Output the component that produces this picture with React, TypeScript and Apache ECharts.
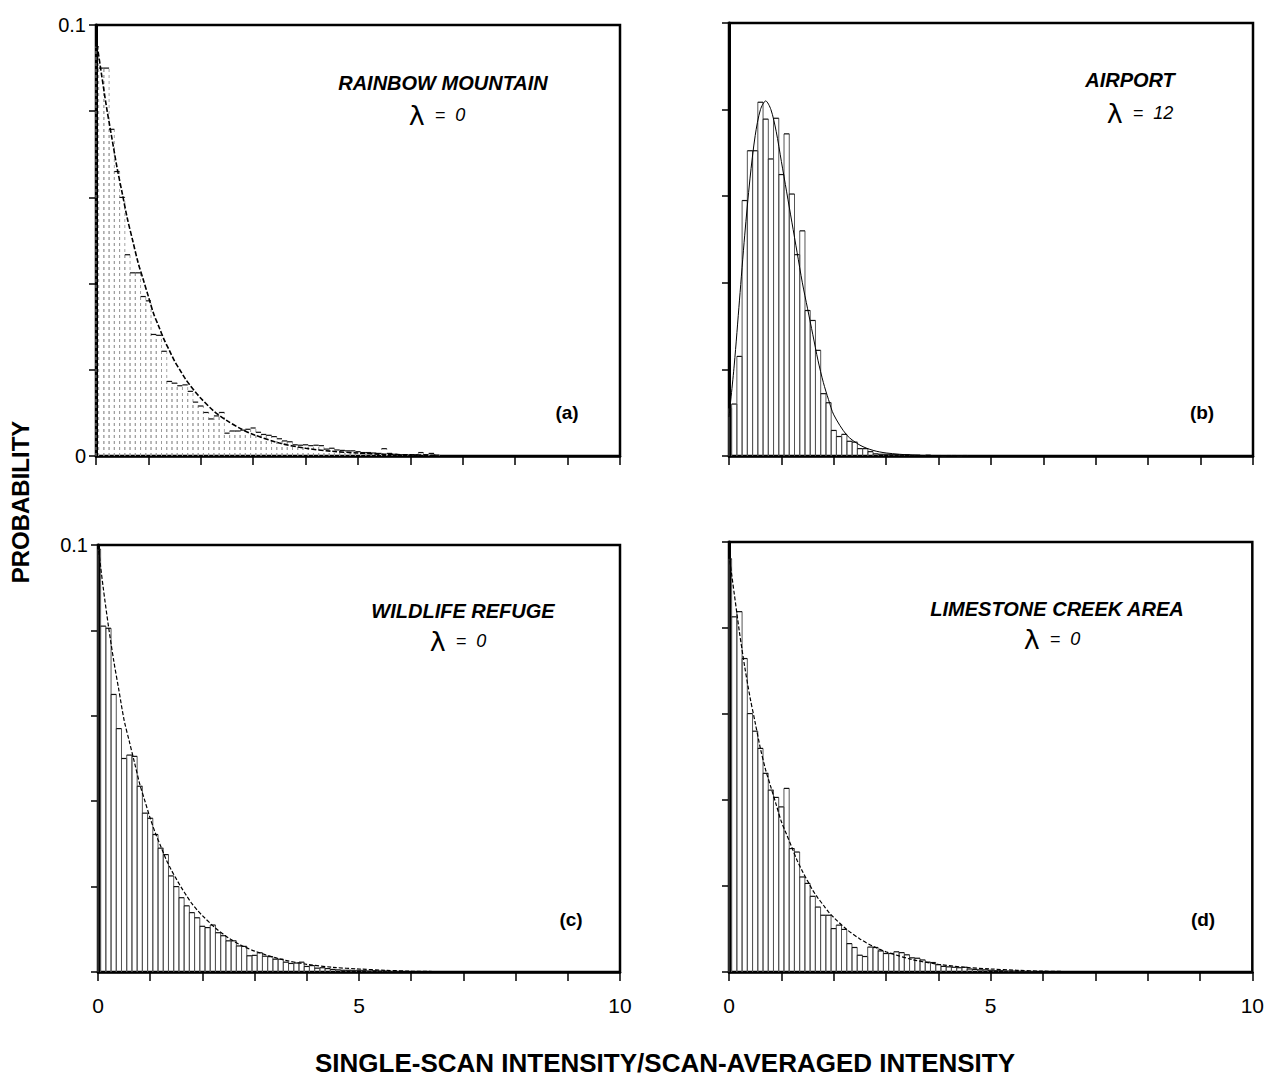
import React, { useEffect, useRef } from "react";
import * as echarts from "echarts";

// Histogram bins are 0.1 wide; bin k is centred on 0.1·k (the first one is clipped at 0).
const BIN_WIDTH = 0.1;

// Probability per bin
const rainbowBins = [
  0.095, 0.090, 0.090, 0.0758, 0.066, 0.060, 0.0467, 0.0425, 0.0425, 0.037,
  0.036, 0.0282, 0.028, 0.0243, 0.0173, 0.0169, 0.0163, 0.0165, 0.015, 0.0125,
  0.0116, 0.0101, 0.0086, 0.0093, 0.0101, 0.0053, 0.0058, 0.0058, 0.006, 0.0062,
  0.0065, 0.0055, 0.005, 0.0048, 0.0045, 0.004, 0.0035, 0.0033, 0.0026, 0.0025,
  0.0026, 0.0024, 0.0025, 0.0024, 0.0016, 0.0018, 0.0014, 0.0013, 0.0012, 0.0012,
  0.001, 0.0008, 0.0008, 0.0007, 0.0006, 0.0017, 0.0006, 0.0004, 0.0003, 0.0003,
  0.0002, 0.0003, 0.0008, 0.0003, 0.0006, 0.0002,
];

const airportBins = [
  0.011, 0.012, 0.023, 0.059, 0.0705, 0.0705, 0.0817, 0.0778, 0.0686, 0.078,
  0.065, 0.0744, 0.0605, 0.0465, 0.052, 0.0336, 0.0313, 0.0244, 0.0144, 0.0123,
  0.0059, 0.0045, 0.005, 0.0034, 0.0032, 0.0017, 0.0017, 0.001, 0.0005, 0.0004,
  0.0004, 0.0003, 0.0003, 0.0002, 0.0003, 0.0002, 0.0002, 0.0001, 0.0002, 0.0001,
  0.0001, 0, 0.0001, 0.0001, 0, 0.0001,
];

const wildlifeBins = [
  0.099, 0.081, 0.0805, 0.065, 0.057, 0.050, 0.0508, 0.0505, 0.0435, 0.0372,
  0.036, 0.0322, 0.029, 0.0275, 0.0225, 0.020, 0.0174, 0.0155, 0.0139, 0.0127,
  0.0107, 0.0104, 0.011, 0.0092, 0.0085, 0.0073, 0.0073, 0.0061, 0.006, 0.0038,
  0.0039, 0.0045, 0.0037, 0.0036, 0.003, 0.003, 0.0023, 0.002, 0.0021, 0.0023,
  0.0013, 0.0015, 0.0009, 0.001, 0.0008, 0.0006, 0.0005, 0.0004, 0.0004, 0.0003,
  0.0004, 0.0003, 0.0002, 0.0003, 0.0002, 0.0002, 0.0001, 0.0001,
];

const limestoneBins = [
  0.0961, 0.0826, 0.0838, 0.0729, 0.0601, 0.056, 0.052, 0.0462, 0.0423, 0.0406,
  0.0384, 0.0427, 0.0287, 0.0279, 0.0221, 0.0206, 0.0176, 0.0151, 0.0132, 0.0132,
  0.0101, 0.0109, 0.0099, 0.0066, 0.0057, 0.0039, 0.0036, 0.0058, 0.0057, 0.0049,
  0.0043, 0.0043, 0.0047, 0.0045, 0.004, 0.0033, 0.0032, 0.0028, 0.0023, 0.0022,
  0.0017, 0.0013, 0.0012, 0.0011, 0.001, 0.0011, 0.0007, 0.0006, 0.0005, 0.0005,
  0.0004, 0.0003, 0.0003, 0.0002, 0.0002, 0.0002, 0.0001, 0.0001, 0.0001,
];

// Fitted probability curves, sampled at CURVE_X
const CURVE_X = [
  0, 0.1, 0.2, 0.3, 0.4, 0.5, 0.6, 0.7, 0.8, 0.9, 1.0, 1.1, 1.2, 1.3, 1.4, 1.5,
  1.6, 1.7, 1.8, 1.9, 2.0, 2.25, 2.5, 2.75, 3.0, 3.5, 4.0, 4.5, 5.0, 5.5, 6.0, 6.5,
];
const rainbowCurve = [
  0.097, 0.089, 0.081, 0.074, 0.067, 0.061, 0.055, 0.050, 0.045, 0.041, 0.037, 0.033,
  0.030, 0.027, 0.0245, 0.022, 0.020, 0.018, 0.0163, 0.0148, 0.0134, 0.0104, 0.0082,
  0.0064, 0.005, 0.003, 0.0018, 0.0011, 0.0007, 0.0004, 0.00025, 0.00015,
];
const airportCurve = [
  0.009, 0.021, 0.036, 0.051, 0.064, 0.074, 0.080, 0.082, 0.080, 0.075, 0.068, 0.061,
  0.054, 0.047, 0.040, 0.034, 0.028, 0.022, 0.017, 0.013, 0.0095, 0.0048, 0.0025,
  0.0013, 0.0007, 0.0002, 0.0001, 0.00005, 0, 0, 0, 0,
];
const wildlifeCurve = [
  0.100, 0.090, 0.081, 0.073, 0.066, 0.059, 0.054, 0.049, 0.044, 0.040, 0.036, 0.0325,
  0.0295, 0.0265, 0.024, 0.0218, 0.0197, 0.0178, 0.016, 0.0145, 0.0132, 0.0103, 0.008,
  0.0062, 0.0049, 0.003, 0.0018, 0.0011, 0.0007, 0.0004, 0.0002, 0.0001,
];
const limestoneCurve = [
  0.097, 0.088, 0.079, 0.071, 0.064, 0.058, 0.052, 0.047, 0.043, 0.039, 0.035, 0.032,
  0.029, 0.026, 0.0235, 0.0212, 0.019, 0.0172, 0.0156, 0.014, 0.0127, 0.0099, 0.0077,
  0.006, 0.0047, 0.0029, 0.0018, 0.0011, 0.0007, 0.0004, 0.0002, 0.0001,
];

const X_LABELS = [0, 5, 10];
const SITE_NAMES = ["RAINBOW MOUNTAIN", "AIRPORT", "WILDLIFE REFUGE", "LIMESTONE CREEK AREA"];
const LAMBDAS = ["0", "12", "0", "0"];
const PANEL_TAGS = ["(a)", "(b)", "(c)", "(d)"];
const Y_TITLE = "PROBABILITY";
const X_TITLE = "SINGLE-SCAN INTENSITY/SCAN-AVERAGED INTENSITY";

const SANS = "'Liberation Sans', Arial, Helvetica, sans-serif";

type SideStyle = { stroke: string; lineWidth: number; lineDash?: number[] };

const PANELS = [
  {
    bins: rainbowBins, curve: rainbowCurve,
    grid: { left: 96, top: 25, width: 524, height: 431 },
    yLabels: ["0", "0.1"], xLabels: false,
    side: { stroke: "#9a9a9a", lineWidth: 0.9, lineDash: [3, 3] } as SideStyle,
    curveStyle: { width: 1.6, type: [5, 2] as any },
    name: { x: 443, y: 83 }, lambda: { x: 437, y: 115 }, tag: { x: 567, y: 412 },
  },
  {
    bins: airportBins, curve: airportCurve,
    grid: { left: 729, top: 23, width: 524, height: 433 },
    yLabels: [], xLabels: false,
    side: { stroke: "#555", lineWidth: 1 } as SideStyle,
    curveStyle: { width: 1, type: "solid" as any },
    name: { x: 1130, y: 80 }, lambda: { x: 1140, y: 113 }, tag: { x: 1202, y: 412 },
  },
  {
    bins: wildlifeBins, curve: wildlifeCurve,
    grid: { left: 98, top: 545, width: 522, height: 427 },
    yLabels: ["0.1"], xLabels: true,
    side: { stroke: "#555", lineWidth: 1 } as SideStyle,
    curveStyle: { width: 1.2, type: [4, 2] as any },
    name: { x: 463, y: 611 }, lambda: { x: 458, y: 641 }, tag: { x: 571, y: 919 },
  },
  {
    bins: limestoneBins, curve: limestoneCurve,
    grid: { left: 729, top: 542, width: 524, height: 430 },
    yLabels: [], xLabels: true,
    side: { stroke: "#555", lineWidth: 1 } as SideStyle,
    curveStyle: { width: 1.2, type: [4, 2] as any },
    name: { x: 1057, y: 609 }, lambda: { x: 1052, y: 639 }, tag: { x: 1203, y: 919 },
  },
];

function histRenderer(side: SideStyle) {
  return (_params: any, api: any) => {
    const x0 = api.value(0);
    const x1 = api.value(1);
    const p = api.value(2);
    const bl = api.coord([x0, 0]);
    const tr = api.coord([x1, p]);
    const sideStyle = { stroke: side.stroke, lineWidth: side.lineWidth, lineDash: side.lineDash, fill: null };
    return {
      type: "group",
      children: [
        { type: "line", shape: { x1: bl[0], y1: bl[1], x2: bl[0], y2: tr[1] }, style: sideStyle },
        { type: "line", shape: { x1: tr[0], y1: bl[1], x2: tr[0], y2: tr[1] }, style: sideStyle },
        { type: "line", shape: { x1: bl[0], y1: tr[1], x2: tr[0], y2: tr[1] }, style: { stroke: "#111", lineWidth: 1.2 } },
      ],
    };
  };
}

function textEl(text: string, x: number, y: number, font: string, extra: any = {}) {
  return {
    type: "text",
    x,
    y,
    ...extra,
    style: {
      text,
      font,
      fill: "#000",
      align: "center",
      verticalAlign: "middle",
      textAlign: "center",
      textVerticalAlign: "middle",
    },
  };
}

function lambdaEl(value: string, x: number, y: number) {
  return {
    type: "text",
    x,
    y,
    style: {
      text: `{l|λ}{e|  =  ${value}}`,
      align: "center",
      verticalAlign: "middle",
      textAlign: "center",
      textVerticalAlign: "middle",
      rich: {
        l: { font: `normal 27px 'DejaVu Sans', sans-serif`, fill: "#000" },
        e: { font: `italic 18px ${SANS}`, fill: "#000" },
      },
    },
  };
}

export default function App() {
  const ref = useRef<HTMLDivElement>(null);

  useEffect(() => {
    if (!ref.current) return;
    const chart = echarts.init(ref.current, undefined, { renderer: "svg" });

    const grids = PANELS.map((p) => ({
      ...p.grid,
      show: true,
      borderColor: "#000",
      borderWidth: 2.5,
      containLabel: false,
    }));

    const xAxes = PANELS.map((p, i) => ({
      gridIndex: i,
      type: "value",
      min: 0,
      max: 10,
      interval: 1,
      axisLine: { show: true, onZero: false, lineStyle: { color: "#000", width: 2.5 } },
      axisTick: { show: true, inside: false, length: 9, lineStyle: { color: "#000", width: 1.5 } },
      axisLabel: {
        show: p.xLabels,
        margin: 23,
        color: "#000",
        fontSize: 21,
        fontFamily: SANS,
        formatter: (v: number) => (X_LABELS.indexOf(v) >= 0 ? String(v) : ""),
      },
      splitLine: { show: false },
    }));

    const yAxes = PANELS.map((p, i) => ({
      gridIndex: i,
      type: "value",
      min: 0,
      max: 0.1,
      interval: 0.02,
      axisLine: { show: true, onZero: false, lineStyle: { color: "#000", width: 3 } },
      axisTick: { show: true, inside: false, length: 7, lineStyle: { color: "#000", width: 1.5 } },
      axisLabel: {
        show: p.yLabels.length > 0,
        margin: 10,
        color: "#000",
        fontSize: 20,
        fontFamily: SANS,
        formatter: (v: number) => {
          const s = Math.abs(v) < 1e-9 ? "0" : Math.abs(v - 0.1) < 1e-9 ? "0.1" : "";
          return p.yLabels.indexOf(s) >= 0 ? s : "";
        },
      },
      splitLine: { show: false },
    }));

    const series: any[] = [];
    PANELS.forEach((p, i) => {
      series.push({
        type: "custom",
        xAxisIndex: i,
        yAxisIndex: i,
        z: 2,
        silent: true,
        renderItem: histRenderer(p.side),
        encode: { x: [0, 1], y: 2 },
        data: p.bins.map((v, k) => [Math.max(0, (k - 0.5) * BIN_WIDTH), (k + 0.5) * BIN_WIDTH, v]),
      });
      series.push({
        type: "line",
        xAxisIndex: i,
        yAxisIndex: i,
        z: 3,
        smooth: 0.3,
        showSymbol: false,
        silent: true,
        lineStyle: { color: "#000", width: p.curveStyle.width, type: p.curveStyle.type },
        data: CURVE_X.map((x, k) => [x, p.curve[k]]),
      });
    });

    const graphics: any[] = [];
    PANELS.forEach((p, i) => {
      graphics.push(textEl(SITE_NAMES[i], p.name.x, p.name.y, `italic bold 20px ${SANS}`));
      graphics.push(lambdaEl(LAMBDAS[i], p.lambda.x, p.lambda.y));
      graphics.push(textEl(PANEL_TAGS[i], p.tag.x, p.tag.y, `bold 19px ${SANS}`));
    });
    graphics.push(textEl(Y_TITLE, 20, 502, `bold 24px ${SANS}`, { rotation: Math.PI / 2 }));
    graphics.push(textEl(X_TITLE, 665, 1063, `bold 26px ${SANS}`));

    chart.setOption({
      animation: false,
      backgroundColor: "#fff",
      grid: grids,
      xAxis: xAxes,
      yAxis: yAxes,
      series,
      graphic: { elements: graphics },
    });

    return () => chart.dispose();
  }, []);

  return (
    <div
      ref={ref}
      style={{ position: "fixed", left: 0, top: 0, width: "1267px", height: "1082px", background: "#fff" }}
    />
  );
}
